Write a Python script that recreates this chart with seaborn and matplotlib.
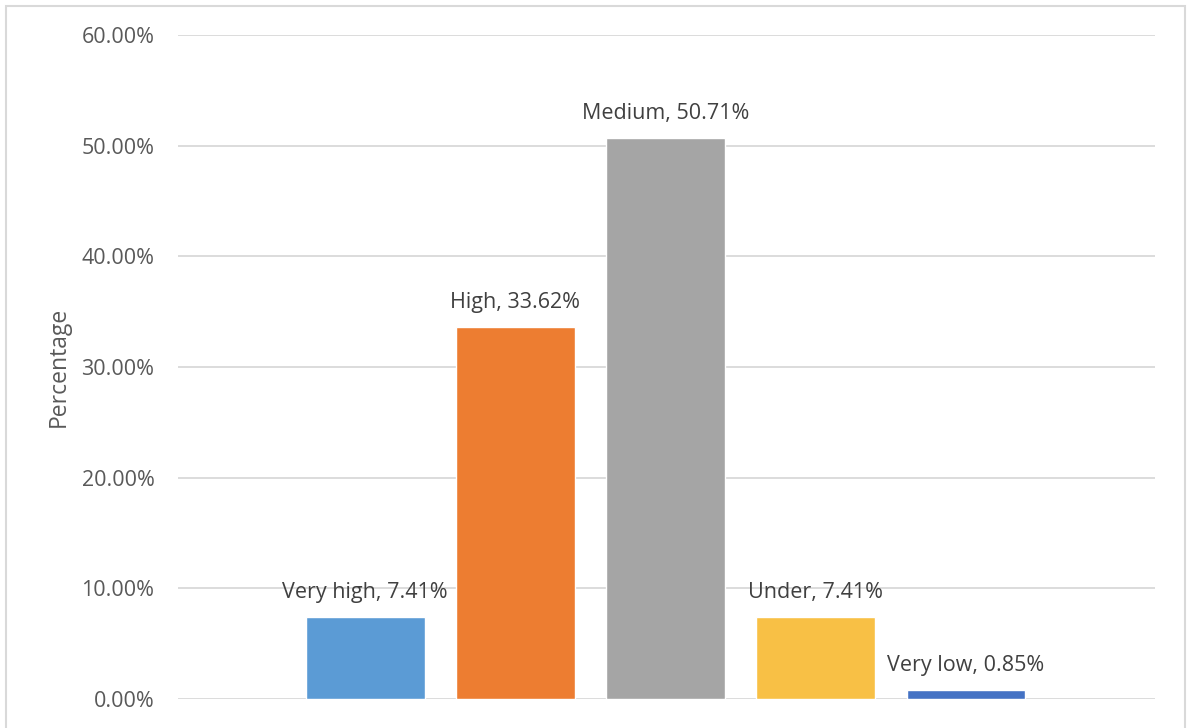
import matplotlib
matplotlib.use("Agg")
import matplotlib.pyplot as plt
import seaborn as sns
import pandas as pd
from matplotlib.patches import Rectangle

categories = ["Very high", "High", "Medium", "Under", "Very low"]
shares = [7.41, 33.62, 50.71, 7.41, 0.85]
colors = ["#5B9BD5", "#ED7D31", "#A5A5A5", "#F8C045", "#4472C4"]
yticks = [0, 10, 20, 30, 40, 50, 60]

df = pd.DataFrame({"level": categories, "share": shares})

sns.set_theme(style="white")
plt.rcParams["font.family"] = ["Open Sans", "DejaVu Sans"]

W, H = 1189, 728
fig = plt.figure(figsize=(W / 100, H / 100), dpi=100)
ax = fig.add_axes([178 / W, (H - 699) / H, (1155 - 178) / W, (699 - 35) / H])

sns.barplot(data=df, x="level", y="share", hue="level", order=categories,
            palette=dict(zip(categories, colors)), width=0.79,
            legend=False, ax=ax, saturation=1)

ax.set_xlim(-1.247, 5.26)
ax.set_ylim(0, 60)
ax.set_yticks(yticks)
ax.set_yticklabels([f"{t:.2f}%" for t in yticks], fontsize=15.5, color="#595959")
ax.set_xticks([])
ax.set_xlabel("")
ax.set_ylabel("Percentage", fontsize=16.5, color="#595959", labelpad=8)
ax.tick_params(axis="y", length=0, pad=17)
ax.yaxis.grid(True, color="#D9D9D9", linewidth=1.3)
ax.set_axisbelow(True)
for s in ax.spines.values():
    s.set_visible(False)

for i, (cat, val) in enumerate(zip(categories, shares)):
    ax.annotate(f"{cat}, {val:.2f}%", xy=(i, val), xytext=(0, 10),
                textcoords="offset points", ha="center", va="bottom",
                fontsize=15.5, color="#404040")

# outer chart frame
fig.patches.append(Rectangle((6 / W, -0.02), (1185 - 6) / W, 1 - 6 / H + 0.02,
                             transform=fig.transFigure, fill=False,
                             edgecolor="#D9D9D9", linewidth=1.5))

fig.savefig("out.png", dpi=100)
